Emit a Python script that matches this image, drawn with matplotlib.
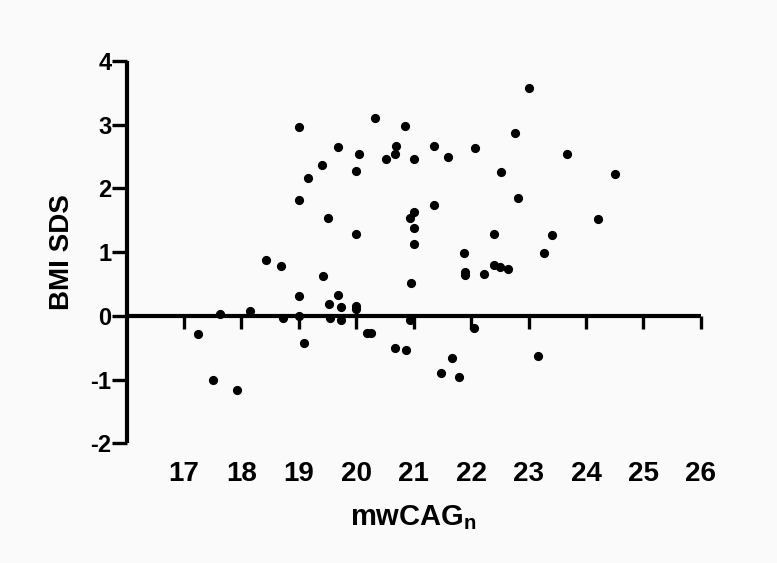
import matplotlib
matplotlib.use("Agg")
import matplotlib.pyplot as plt

plt.rcParams['font.family'] = ['Liberation Sans', 'DejaVu Sans']
plt.rcParams['font.weight'] = 'bold'
plt.rcParams['axes.unicode_minus'] = False
plt.rcParams['mathtext.fontset'] = 'custom'
plt.rcParams['mathtext.rm'] = 'Liberation Sans:bold'
plt.rcParams['mathtext.bf'] = 'Liberation Sans:bold'
plt.rcParams['mathtext.it'] = 'Liberation Sans:bold'

mwcag = [17.24, 17.51, 17.63, 17.92, 18.15, 18.42, 18.69, 18.72, 19.00, 19.00,
         19.00, 19.00, 19.08, 19.15, 19.41, 19.42, 19.51, 19.52, 19.55, 19.68,
         19.68, 19.73, 19.74, 20.00, 20.00, 20.00, 20.00, 20.04, 20.18, 20.25,
         20.32, 20.51, 20.67, 20.68, 20.69, 20.84, 20.86, 20.94, 20.94, 20.96,
         21.00, 21.00, 21.00, 21.00, 21.35, 21.35, 21.48, 21.60, 21.66, 21.79,
         21.87, 21.90, 21.90, 22.05, 22.06, 22.22, 22.39, 22.40, 22.51, 22.52,
         22.65, 22.76, 22.81, 23.00, 23.16, 23.26, 23.41, 23.67, 24.21, 24.51]
bmi_sds = [-0.29, -1.01, 0.03, -1.17, 0.07, 0.87, 0.78, -0.03, 2.96, 1.81,
           0.31, 0.00, -0.43, 2.16, 2.37, 0.62, 1.53, 0.19, -0.04, 2.64,
           0.32, 0.14, -0.06, 2.27, 1.29, 0.15, 0.10, 2.54, -0.27, -0.27,
           3.10, 2.46, -0.51, 2.53, 2.66, 2.97, -0.54, 1.53, -0.06, 0.51,
           2.46, 1.62, 1.37, 1.13, 2.66, 1.74, -0.90, 2.49, -0.66, -0.96,
           0.99, 0.68, 0.64, -0.19, 2.63, 0.66, 0.79, 1.29, 0.76, 2.26,
           0.74, 2.86, 1.85, 3.57, -0.63, 0.98, 1.27, 2.54, 1.52, 2.22]

x_ticks = [17, 18, 19, 20, 21, 22, 23, 24, 25, 26]
y_ticks = [-2, -1, 0, 1, 2, 3, 4]

bg = '#fafafa'
fig = plt.figure(figsize=(7.77, 5.63), dpi=100, facecolor=bg)
ax = fig.add_axes([0.163, 0.2126, 0.739, 0.6795])
ax.set_facecolor(bg)

ax.plot(mwcag, bmi_sds, 'o', color='black', markersize=5.6, linestyle='none',
        clip_on=False, zorder=3)

ax.set_xlim(16, 26)
ax.set_ylim(-2, 4)
ax.set_xticks(x_ticks)
ax.set_yticks(y_ticks)

for s in ['top', 'right']:
    ax.spines[s].set_visible(False)
ax.spines['bottom'].set_position(('data', 0))
for s in ['left', 'bottom']:
    ax.spines[s].set_linewidth(3.0)
    ax.spines[s].set_capstyle('butt')

ax.tick_params(axis='x', direction='out', length=9.5, width=2.4, pad=95,
               labelsize=20)
ax.tick_params(axis='y', direction='out', length=10.5, width=2.4, pad=0.5,
               labelsize=17)
for lab in ax.get_xticklabels() + ax.get_yticklabels():
    lab.set_fontweight('bold')

ax.set_ylabel('BMI SDS', fontsize=20, fontweight='bold', labelpad=11)
ax.set_xlabel(r'mwCAG$_{\mathbf{n}}$', fontsize=21, fontweight='bold', labelpad=12)

fig.savefig('out.png', dpi=100, facecolor=bg)
